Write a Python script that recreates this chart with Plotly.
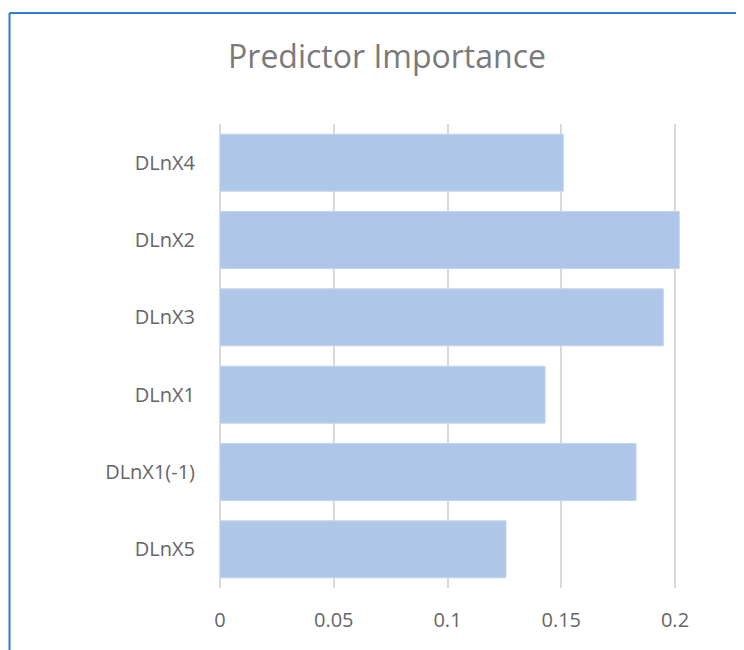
import plotly.graph_objects as go

categories = ["DLnX4", "DLnX2", "DLnX3", "DLnX1", "DLnX1(-1)", "DLnX5"]
importance = [0.1509, 0.2019, 0.1949, 0.1429, 0.1829, 0.1257]
tick_vals = [0, 0.05, 0.1, 0.15, 0.2]
tick_text = ["0", "0.05", "0.1", "0.15", "0.2"]

OFF = 8  # page body margin
W, H = 744 - OFF, 650 - OFF
L, R, T, B = 220 - OFF, 0, 124 - OFF, 62 - 0
pw = W - L - R
ph = H - T - B
x_max = pw / 2275.0

fig = go.Figure()
fig.add_trace(go.Bar(
    y=categories, x=importance, orientation="h",
    marker=dict(color="#AEC7E8", line=dict(color="#C4D6EE", width=1)),
    hoverinfo="x+y",
))

def px_x(p):
    return (p - OFF - L) / pw

def px_y(p):
    return 1 - (p - OFF - T) / ph

border = "#2E7BD6"
fig.add_shape(type="line", xref="paper", yref="paper",
              x0=px_x(9.5), x1=px_x(9.5), y0=px_y(13), y1=px_y(670),
              line=dict(color=border, width=2))
fig.add_shape(type="line", xref="paper", yref="paper",
              x0=px_x(9.5), x1=px_x(760), y0=px_y(13), y1=px_y(13),
              line=dict(color=border, width=2))

fig.update_layout(
    width=W, height=H,
    margin=dict(l=L, r=R, t=T, b=B),
    paper_bgcolor="white", plot_bgcolor="white",
    bargap=0.263,
    showlegend=False,
    font=dict(family="Open Sans", color="#666666", size=20),
    title=dict(text="Predictor Importance", x=(387 - OFF) / W, xanchor="center",
               y=1 - (57 - OFF) / H, yanchor="middle",
               font=dict(family="Open Sans", size=32, color="#7a7a7a")),
    xaxis=dict(range=[0, x_max], tickvals=tick_vals, ticktext=tick_text,
               showgrid=True, gridcolor="#D9D9D9", gridwidth=1.5,
               zeroline=True, zerolinecolor="#D9D9D9", zerolinewidth=1.5,
               showline=False, ticks="", ticklabelstandoff=18,
               tickfont=dict(size=20, color="#666666")),
    yaxis=dict(autorange="reversed", showgrid=False, showline=False,
               ticks="", ticklabelstandoff=24,
               tickfont=dict(size=20, color="#666666")),
)

fig.write_html("out.html")
